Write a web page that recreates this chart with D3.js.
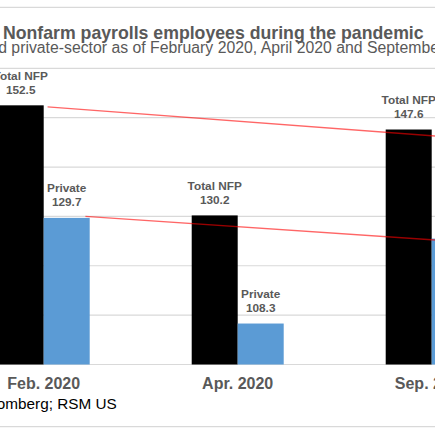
<!DOCTYPE html>
<html>
<head>
<meta charset="utf-8">
<script src="https://cdnjs.cloudflare.com/ajax/libs/d3/7.8.5/d3.min.js"></script>
<style>
  body { margin: 0; background: #fff; }
  svg { display: block; font-family: "Liberation Sans", Arial, sans-serif; }
</style>
</head>
<body>
<div id="chart"></div>
<script>
var categories = ['Feb. 2020', 'Apr. 2020', 'Sep. 2020'];
var seriesNames = ['Total NFP', 'Private'];
var totalNFP = [152.5, 130.2, 147.6];
var privateJobs = [129.7, 108.3, 125.5];
var yTicks = [100, 110, 120, 130, 140, 150, 160];
// red reference lines: value at start and end
var trendTotal = [152.2, 145.6];
var trendPrivate = [130.0, 124.6];

var title = 'Nonfarm payrolls employees during the pandemic';
var subtitle = 'Total and private-sector as of February 2020, April 2020 and September 2020';
var source = 'Source: Bloomberg; RSM US';

var width = 435;
var height = 435;
var grey = '#595959';

var svg = d3.select('#chart')
    .append('svg')
    .attr('width', width)
    .attr('height', height);

var x = d3.scaleBand()
    .domain(categories)
    .range([-53.3, 528.7])
    .paddingInner(0.5258)
    .paddingOuter(0.2629);

var xs = d3.scaleBand()
    .domain(seriesNames)
    .range([0, x.bandwidth()]);

var y = d3.scaleLinear()
    .domain([100, 160])
    .range([364.5, 68.3]);

// x position in "category units" for the trend lines
var xc = d3.scaleLinear()
    .domain([0, 2])
    .range([x(categories[0]) + x.bandwidth() / 2, x(categories[2]) + x.bandwidth() / 2]);

// frame lines
svg.append('g')
    .selectAll('line')
    .data([7.3, 426.7])
    .enter()
    .append('line')
    .attr('x1', 0)
    .attr('x2', width)
    .attr('y1', d => d)
    .attr('y2', d => d)
    .attr('stroke', '#d9d9d9')
    .attr('stroke-width', 1.3);

// gridlines
svg.append('g')
    .selectAll('line')
    .data(yTicks)
    .enter()
    .append('line')
    .attr('x1', -60)
    .attr('x2', 540)
    .attr('y1', d => y(d))
    .attr('y2', d => y(d))
    .attr('stroke', '#d9d9d9')
    .attr('stroke-width', 1.2);

var rows = categories.map((c, i) => ({cat: c, values: [totalNFP[i], privateJobs[i]]}));
var colors = ['#000000', '#5b9bd5'];

var groups = svg.append('g')
    .selectAll('g')
    .data(rows)
    .enter()
    .append('g')
    .attr('transform', d => 'translate(' + x(d.cat) + ',0)');

groups.selectAll('rect')
    .data(d => d.values.map((v, i) => ({name: seriesNames[i], value: v, idx: i})))
    .enter()
    .append('rect')
    .attr('x', d => xs(d.name))
    .attr('width', xs.bandwidth())
    .attr('y', d => y(d.value))
    .attr('height', d => y(100) - y(d.value))
    .attr('fill', d => colors[d.idx]);

var labels = groups.selectAll('text')
    .data(d => d.values.map((v, i) => ({name: seriesNames[i], value: v})))
    .enter()
    .append('text')
    .attr('text-anchor', 'middle')
    .attr('font-size', 11.8)
    .attr('font-weight', 'bold')
    .attr('fill', grey);

labels.append('tspan')
    .attr('x', d => xs(d.name) + xs.bandwidth() / 2)
    .attr('y', d => y(d.value) - 25.5)
    .text(d => d.name);

labels.append('tspan')
    .attr('x', d => xs(d.name) + xs.bandwidth() / 2)
    .attr('y', d => y(d.value) - 11.8)
    .text(d => d3.format('.1f')(d.value));

// red reference lines
var trends = [
    {pts: [[0.02, trendTotal[0]], [2.25, trendTotal[1]]]},
    {pts: [[0.215, trendPrivate[0]], [2.25, trendPrivate[1]]]}
];
var line = d3.line()
    .x(d => xc(d[0]))
    .y(d => y(d[1]));

svg.append('g')
    .selectAll('path')
    .data(trends)
    .enter()
    .append('path')
    .attr('d', d => line(d.pts))
    .attr('fill', 'none')
    .attr('stroke', '#ff0000')
    .attr('stroke-opacity', 0.6)
    .attr('stroke-width', 1.3);

// category labels
svg.append('g')
    .selectAll('text')
    .data(categories)
    .enter()
    .append('text')
    .attr('x', d => x(d) + x.bandwidth() / 2)
    .attr('y', 389)
    .attr('text-anchor', 'middle')
    .attr('font-size', 16)
    .attr('font-weight', 'bold')
    .attr('fill', grey)
    .text(d => d);

svg.append('text')
    .attr('x', 213.3)
    .attr('y', 39.3)
    .attr('text-anchor', 'middle')
    .attr('font-size', 17.7)
    .attr('font-weight', 'bold')
    .attr('fill', grey)
    .text(title);

svg.append('text')
    .attr('x', 213.3)
    .attr('y', 52.9)
    .attr('text-anchor', 'middle')
    .attr('font-size', 15.8)
    .attr('fill', grey)
    .text(subtitle);

svg.append('text')
    .attr('x', 116.7)
    .attr('y', 409.3)
    .attr('text-anchor', 'end')
    .attr('font-size', 15.3)
    .attr('fill', '#000')
    .text(source);
</script>
</body>
</html>
